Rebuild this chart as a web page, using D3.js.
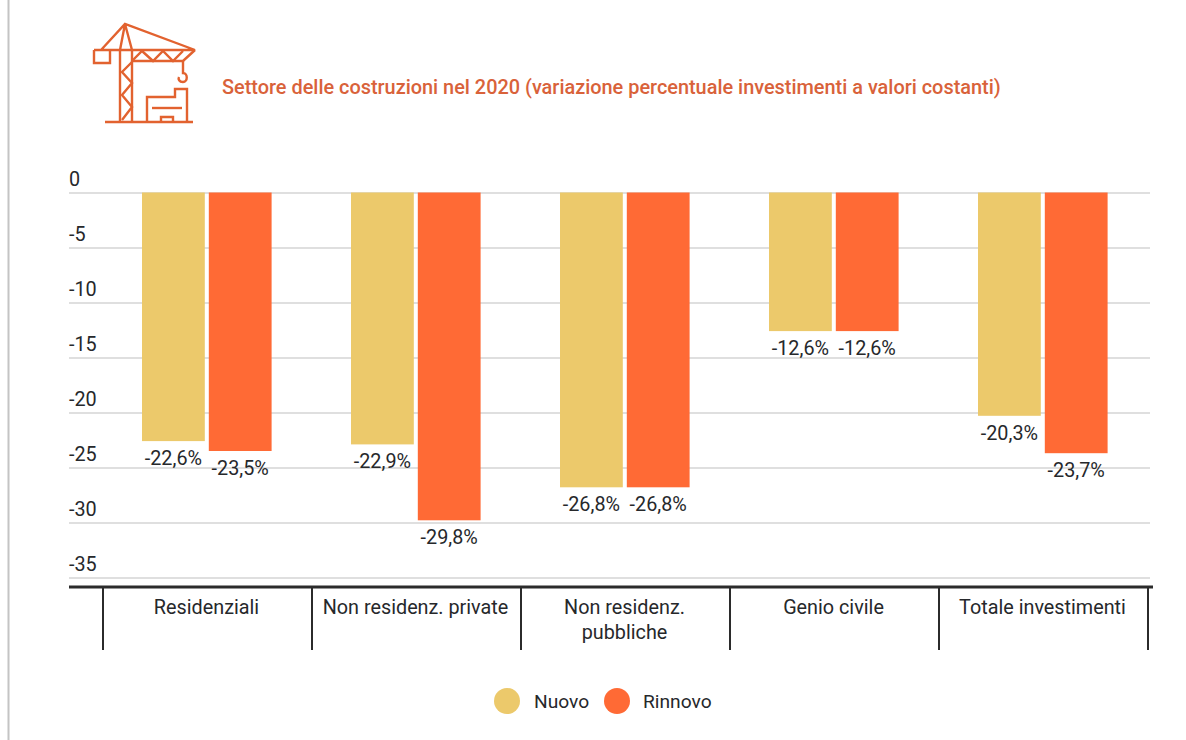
<!DOCTYPE html>
<html lang="it">
<head>
<meta charset="utf-8">
<script src="https://cdn.jsdelivr.net/npm/d3@7/dist/d3.min.js"></script>
<style>
  html, body { margin: 0; padding: 0; background: #fff; }
  svg { display: block; font-family: Roboto, sans-serif; }
</style>
</head>
<body>
<svg id="chart" width="1186" height="740"></svg>
<script>
// Variazione percentuale degli investimenti per comparto
const categories = ["Residenziali", "Non residenz. private", "Non residenz. pubbliche", "Genio civile", "Totale investimenti"];
const categoryLines = [["Residenziali"], ["Non residenz. private"], ["Non residenz.", "pubbliche"], ["Genio civile"], ["Totale investimenti"]];
const seriesNames = ["Nuovo", "Rinnovo"];
const nuovo = [-22.6, -22.9, -26.8, -12.6, -20.3];
const rinnovo = [-23.5, -29.8, -26.8, -12.6, -23.7];
const yTicks = [0, -5, -10, -15, -20, -25, -30, -35];
const title = "Settore delle costruzioni nel 2020 (variazione percentuale investimenti a valori costanti)";

const colors = { Nuovo: "#ecc96b", Rinnovo: "#ff6a35" };
const accent = "#d9623a";
const textColor = "#26282b";
const labelSize = 19.8;

const svg = d3.select("#chart");

const x = d3.scaleBand().domain(categories).range([103, 1148]);
const xInner = d3.scaleBand().domain(seriesNames).range([39, 168.6]).paddingInner(0.06);
const y = d3.scaleLinear().domain([0, -35]).range([192.5, 577.5]);

// Il segno meno è il trattino semplice, con la virgola come separatore decimale
const format = v => d3.format(".1f")(v).replace(".", ",").replace("\u2212", "-") + "%";

// Bordo sinistro della pagina
svg.append("line").attr("x1", 8.5).attr("x2", 8.5).attr("y1", 0).attr("y2", 740)
  .attr("stroke", "#c4c4c4").attr("stroke-width", 2);

// Griglia ed etichette dell'asse dei valori
const yAxis = svg.append("g").attr("transform", "translate(69,0)")
  .call(d3.axisRight(y).tickValues(yTicks).tickSize(1081).tickFormat(d => String(d)));
yAxis.select(".domain").remove();
yAxis.selectAll(".tick line").attr("stroke", "#d4d4d4").attr("stroke-width", 1.5);
yAxis.selectAll(".tick text")
  .attr("x", 0).attr("dy", -7).attr("text-anchor", "start")
  .attr("font-family", "Roboto, sans-serif").attr("font-size", labelSize).attr("fill", textColor);

// Barre raggruppate con il valore sotto ciascuna barra
const seriesValues = [nuovo, rinnovo];
const rows = seriesNames.flatMap((name, s) =>
  categories.map((cat, c) => ({ name, cat, value: seriesValues[s][c] })));

svg.append("g").selectAll("rect").data(rows).join("rect")
  .attr("x", d => x(d.cat) + xInner(d.name))
  .attr("y", y(0))
  .attr("width", xInner.bandwidth())
  .attr("height", d => y(d.value) - y(0))
  .attr("fill", d => colors[d.name]);

svg.append("g").selectAll("text").data(rows).join("text")
  .attr("x", d => x(d.cat) + xInner(d.name) + xInner.bandwidth() / 2)
  .attr("y", d => y(d.value) + 24)
  .attr("text-anchor", "middle")
  .attr("font-size", labelSize).attr("fill", textColor)
  .text(d => format(d.value));

// Asse delle categorie con i separatori verticali
const axisY = 587;
svg.append("line").attr("x1", 69).attr("x2", 1153).attr("y1", axisY).attr("y2", axisY)
  .attr("stroke", "#2b2b2b").attr("stroke-width", 3);
const edges = categories.map(c => x(c)).concat(x.range()[1]);
svg.append("g").selectAll("line").data(edges).join("line")
  .attr("x1", d => d).attr("x2", d => d)
  .attr("y1", axisY).attr("y2", 650)
  .attr("stroke", "#2b2b2b").attr("stroke-width", 2);
svg.append("g").selectAll("text").data(categories).join("text")
  .attr("y", 614)
  .attr("text-anchor", "middle")
  .attr("font-size", labelSize).attr("fill", textColor)
  .each(function (d, i) {
    d3.select(this).selectAll("tspan").data(categoryLines[i]).join("tspan")
      .attr("x", x(d) + x.bandwidth() / 2 - 1)
      .attr("dy", (l, k) => k ? 25 : 0)
      .text(l => l);
  });

// Legenda
const legendItems = [
  { name: "Nuovo", cx: 507, tx: 534 },
  { name: "Rinnovo", cx: 617, tx: 643 }
];
const legend = svg.append("g").selectAll("g").data(legendItems).join("g");
legend.append("circle").attr("cx", d => d.cx).attr("cy", 701).attr("r", 13)
  .attr("fill", d => colors[d.name]);
legend.append("text").attr("x", d => d.tx).attr("y", 708)
  .attr("font-size", 19.2).attr("fill", textColor).text(d => d.name);

// Titolo
svg.append("text").attr("x", 222).attr("y", 94)
  .attr("font-size", 19.9).attr("font-weight", 500).attr("fill", accent).text(title);

// Icona della gru
const crane = [
  "M105 122H193",
  "M120 122V50M132 122V50",
  "M132 62L122 72L132 83L122 95L132 107L122 120",
  "M94 50H195L125 24L101 50M125 24L120 50M125 24L132 50",
  "M94 50V63H110V50",
  "M132 61H183L195 50",
  "M132 61L142 51L153 61L163 51L173 61L183 51",
  "M183 61V73C188 73 188 82 183 82C179 82 178 79 179 77",
  "M147 122V97H175V89H187V122",
  "M152 108H182",
  "M161 122V117H173V122"
];
svg.append("g").selectAll("path").data(crane).join("path")
  .attr("d", d => d).attr("fill", "none")
  .attr("stroke", "#e2622f").attr("stroke-width", 2.4);
</script>
</body>
</html>
